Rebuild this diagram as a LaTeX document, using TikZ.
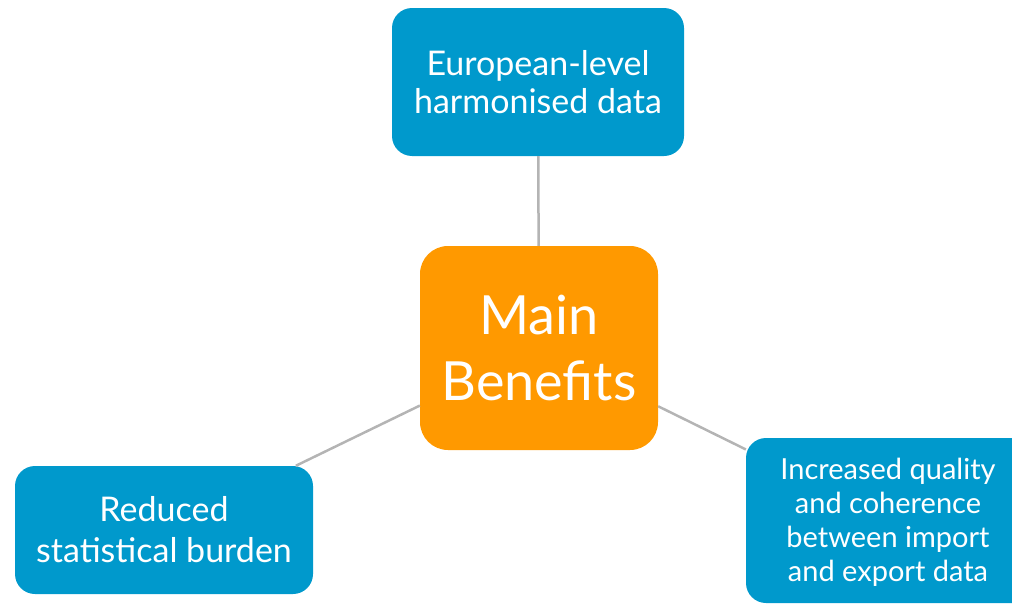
\documentclass[tikz,border=0pt]{standalone}
\usepackage{fontspec}
\setmainfont{Lato}
\definecolor{boxblue}{RGB}{0,153,204}
\definecolor{boxorange}{RGB}{255,153,0}
\definecolor{linkgray}{RGB}{180,180,180}
\begin{document}
\begin{tikzpicture}[x=1pt,y=-1pt,
  benefit/.style={fill=boxblue, rounded corners=20pt, inner sep=0pt, text=white, align=center},
  hub/.style={fill=boxorange, rounded corners=28pt, inner sep=0pt, text=white, align=center,
    minimum width=238pt, minimum height=204pt},
  link/.style={draw=linkgray, line width=2.5pt}]
\useasboundingbox (0,0) rectangle (1012,605);
\clip (0,0) rectangle (1012,605);
% central node
\node[hub, font=\fontsize{54}{66}\selectfont] (main) at (539,348) {Main\\Benefits};
% surrounding benefits
\node[benefit, minimum width=292pt, minimum height=148pt,
  font=\fontsize{34}{38}\selectfont] (top) at (538,82)
  {European-level\\harmonised data};
\node[benefit, minimum width=298pt, minimum height=128pt,
  font=\fontsize{34}{41}\selectfont] (left) at (164,530)
  {Reduced\\statistical burden};
\node[benefit, minimum width=290pt, minimum height=165pt] (right) at (891,520.5) {};
\node[text=white, align=center, inner sep=0pt,
  font=\fontsize{29}{34}\selectfont] (righttext) at (888,522)
  {Increased quality\\and coherence\\between import\\and export data};
% connectors
\draw[link] (top) -- (main);
\draw[link] (left) -- (main);
\draw[link] (main) -- (right);
\end{tikzpicture}
\end{document}
